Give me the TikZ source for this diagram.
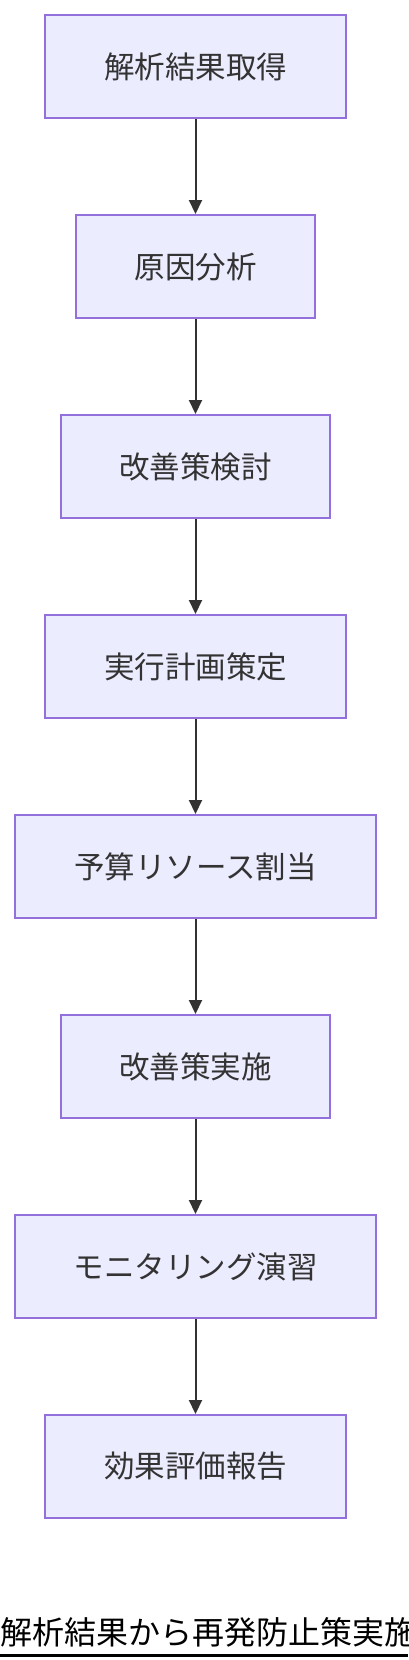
\documentclass[tikz,border=0pt]{standalone}
\usepackage{fontspec}
\setmainfont{Noto Sans CJK JP}
\usetikzlibrary{arrows.meta}
\definecolor{boxfill}{HTML}{ECECFF}
\definecolor{boxline}{HTML}{9370DB}
\definecolor{txt}{HTML}{333333}
\begin{document}
\begin{tikzpicture}[x=1pt,y=-1pt,
  flowbox/.style={draw=boxline,fill=boxfill,line width=2pt,text=txt,
    font=\fontsize{30.5}{36}\selectfont,inner sep=0pt,minimum height=103pt},
  flowarrow/.style={draw=txt,line width=2pt,-{Triangle[length=14pt,width=13pt]}}]
\useasboundingbox (0,0) rectangle (408,1660);
\node[flowbox,minimum width=301pt] (a) at (195.5,66.5) {解析結果取得};
\node[flowbox,minimum width=239pt] (b) at (195.5,266.5) {原因分析};
\node[flowbox,minimum width=269pt] (c) at (195.5,466.5) {改善策検討};
\node[flowbox,minimum width=301pt] (d) at (195.5,666.5) {実行計画策定};
\node[flowbox,minimum width=361pt] (e) at (195.5,866.5) {予算リソース割当};
\node[flowbox,minimum width=269pt] (f) at (195.5,1066.5) {改善策実施};
\node[flowbox,minimum width=361pt] (g) at (195.5,1266.5) {モニタリング演習};
\node[flowbox,minimum width=301pt] (h) at (195.5,1466.5) {効果評価報告};
\draw[flowarrow] (a) -- (b);
\draw[flowarrow] (b) -- (c);
\draw[flowarrow] (c) -- (d);
\draw[flowarrow] (d) -- (e);
\draw[flowarrow] (e) -- (f);
\draw[flowarrow] (f) -- (g);
\draw[flowarrow] (g) -- (h);
\node[anchor=base west,inner sep=0pt,font=\fontsize{32}{38}\selectfont,text=black] (title) at (0,1644) {解析結果から再発防止策実施};
\coordinate (ul) at (0,1655.5);
\coordinate (ur) at (408,1655.5);
\draw[line width=2.2pt,black] (ul) -- (ur);
\end{tikzpicture}
\end{document}
